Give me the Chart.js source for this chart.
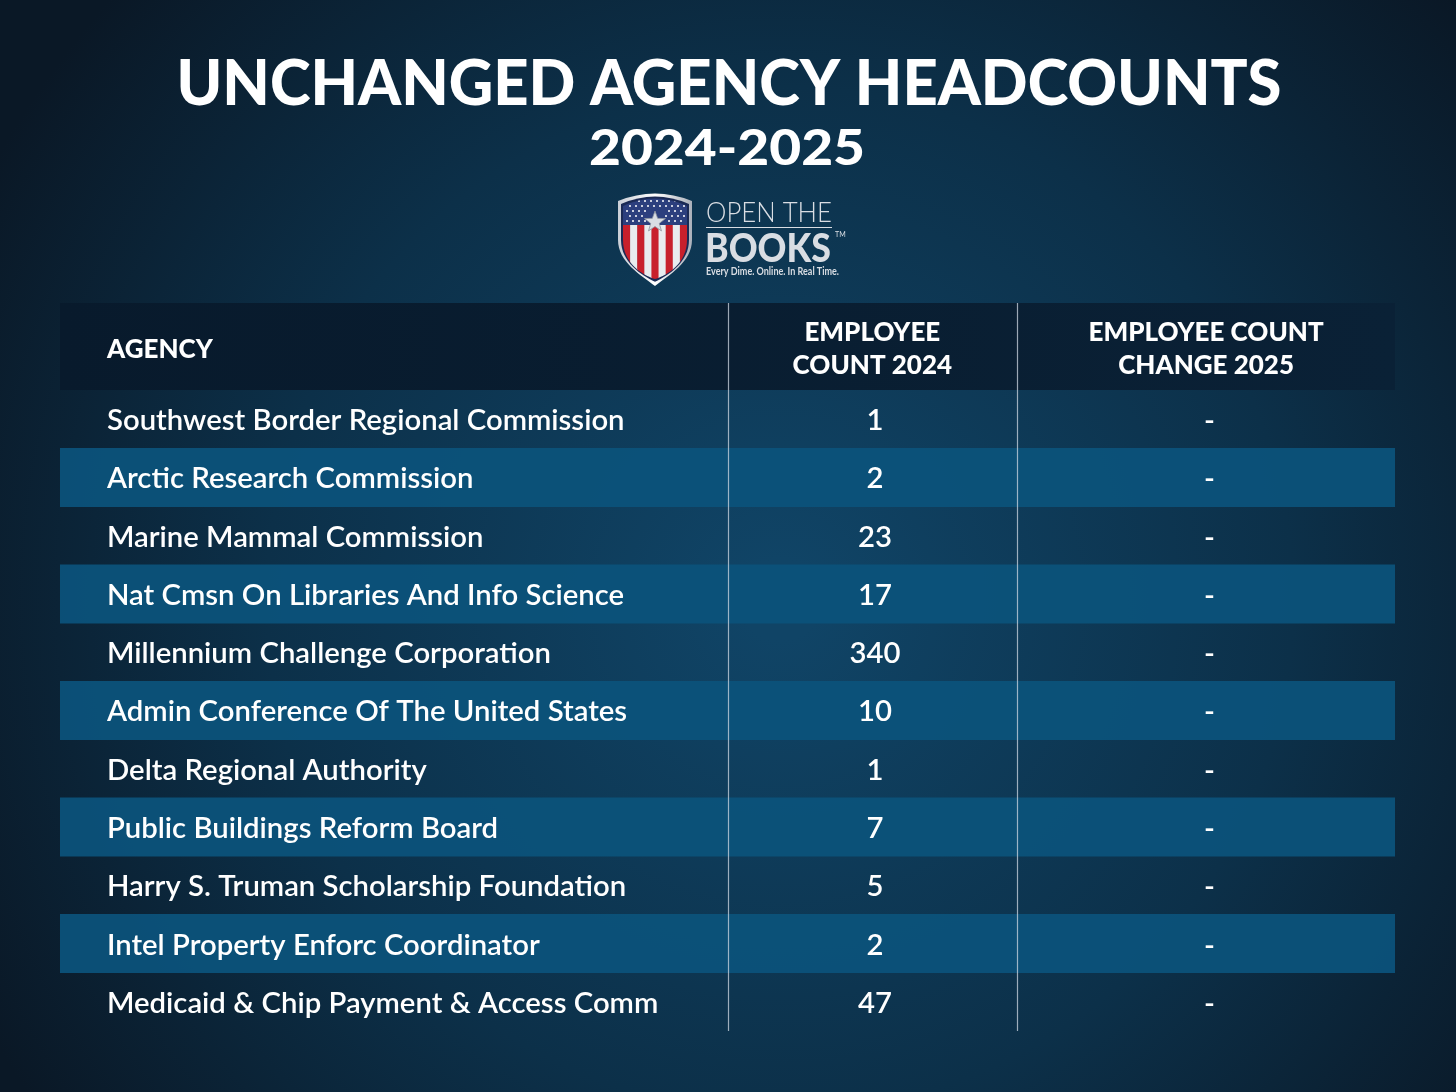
<!DOCTYPE html>
<html>
<head>
<meta charset="utf-8">
<script src="https://cdn.jsdelivr.net/npm/chart.js@4.4.1/dist/chart.umd.min.js"></script>
<style>
  html, body { margin: 0; padding: 0; background: #0b2236; }
  canvas { display: block; }
</style>
</head>
<body>
<canvas id="headcount_chart" width="1456" height="1092"></canvas>
<script>
// table data
const agencies = [
    'Southwest Border Regional Commission',
    'Arctic Research Commission',
    'Marine Mammal Commission',
    'Nat Cmsn On Libraries And Info Science',
    'Millennium Challenge Corporation',
    'Admin Conference Of The United States',
    'Delta Regional Authority',
    'Public Buildings Reform Board',
    'Harry S. Truman Scholarship Foundation',
    'Intel Property Enforc Coordinator',
    'Medicaid & Chip Payment & Access Comm'
];
const count_2024   = [1, 2, 23, 17, 340, 10, 1, 7, 5, 2, 47];
const change_2025  = ['-', '-', '-', '-', '-', '-', '-', '-', '-', '-', '-'];
const header_labels = [['AGENCY'], ['EMPLOYEE', 'COUNT 2024'], ['EMPLOYEE COUNT', 'CHANGE 2025']];

const title_text    = 'UNCHANGED AGENCY HEADCOUNTS';
const subtitle_text = '2024-2025';

// layout (x scale runs 0..100 across the table)
const col_edges   = [50.04, 71.69];
const head_anchor = [3.52, 60.85, 85.85];
const col_anchor  = [3.52, 61.05, 86.1];
const header_top  = 303;

function fit_font( ctx, text, weight, family, target ){
    ctx.font = weight + ' 100px ' + family;
    let w = ctx.measureText( text ).width;
    return 100 * target / w;
}

// draws text at a given size, squeezed or stretched to a target width
function stretched_text( ctx, text, font, x, y, target, align ){
    ctx.font = font;
    let w = ctx.measureText( text ).width;
    let k = target / w;
    ctx.save();
    ctx.textAlign = 'left';
    let left = align == 'center' ? x - target / 2 : x;
    ctx.translate( left, y );
    ctx.scale( k, 1 );
    ctx.fillText( text, 0, 0 );
    ctx.restore();
}

function draw_shield( ctx ){
    const cx = 655;
    function shield_path( inset ){
        let l = 618 + inset, r = 692 - inset, t = 193 + inset, b = 286 - inset * 1.4;
        ctx.beginPath();
        ctx.moveTo( l, t + 8 );
        ctx.quadraticCurveTo( cx, t - 7, r, t + 8 );
        ctx.lineTo( r, 240 );
        ctx.bezierCurveTo( r, 262, cx + 14, 275, cx, b );
        ctx.bezierCurveTo( cx - 14, 275, l, 262, l, 240 );
        ctx.closePath();
    }
    // silver rim
    shield_path( 0 );
    let rim = ctx.createLinearGradient( 618, 0, 692, 0 );
    rim.addColorStop( 0, '#c9ced6' );
    rim.addColorStop( 0.5, '#ffffff' );
    rim.addColorStop( 1, '#aab0ba' );
    ctx.fillStyle = rim;
    ctx.fill();
    shield_path( 3 );
    ctx.fillStyle = '#1b2a55';
    ctx.fill();
    // inner flag
    ctx.save();
    shield_path( 5 );
    ctx.clip();
    ctx.fillStyle = '#2c3f7e';
    ctx.fillRect( 610, 185, 90, 40 );
    let stripe_w = 64 / 9;
    for( let i = 0; i < 9; i++ ){
        ctx.fillStyle = i % 2 ? '#e9ecef' : '#c8202c';
        ctx.fillRect( 623 + i * stripe_w, 225, stripe_w + 0.5, 70 );
    }
    ctx.fillStyle = '#ffffff';
    for( let r = 0; r < 5; r++ ){
        for( let c = 0; c < 10; c++ ){
            let sx = 627 + c * 6 + ( r % 2 ? 3 : 0 );
            let sy = 201 + r * 5;
            if( Math.abs( sx - cx ) < 10 && sy > 210 ) continue;
            ctx.beginPath();
            ctx.arc( sx, sy, 1, 0, Math.PI * 2 );
            ctx.fill();
        }
    }
    ctx.restore();
    // centre star
    ctx.beginPath();
    for( let k = 0; k < 10; k++ ){
        let a = -Math.PI / 2 + k * Math.PI / 5;
        let rr = k % 2 ? 4.5 : 11;
        ctx.lineTo( cx + rr * Math.cos( a ), 222 + rr * Math.sin( a ) );
    }
    ctx.closePath();
    ctx.fillStyle = '#d9dde3';
    ctx.fill();
    ctx.strokeStyle = '#8d949e';
    ctx.lineWidth = 0.8;
    ctx.stroke();
}

const table_plugin = {
    id: 'table_plugin',
    beforeDraw( chart ){
        const ctx = chart.ctx;
        let g = ctx.createRadialGradient( 780, 600, 40, 780, 600, 900 );
        g.addColorStop( 0, '#104466' );
        g.addColorStop( 0.55, '#0c3049' );
        g.addColorStop( 1, '#0a1826' );
        ctx.save();
        ctx.fillStyle = g;
        ctx.fillRect( 0, 0, chart.width, chart.height );
        ctx.restore();
    },
    afterDatasetsDraw( chart ){
        const ctx = chart.ctx;
        const area = chart.chartArea;
        const xs = chart.scales.x;
        const ys = chart.scales.y;

        ctx.save();
        // header band
        let hg = ctx.createLinearGradient( area.left, 0, area.right, 0 );
        hg.addColorStop( 0, '#081a2c' );
        hg.addColorStop( 1, '#0a2136' );
        ctx.fillStyle = hg;
        ctx.fillRect( area.left, header_top, area.right - area.left, area.top - header_top );

        // column rules
        ctx.strokeStyle = 'rgba(205, 215, 225, 0.75)';
        ctx.lineWidth = 1.2;
        col_edges.forEach( v => {
            let px = Math.round( xs.getPixelForValue( v ) ) + 0.5;
            ctx.beginPath();
            ctx.moveTo( px, header_top );
            ctx.lineTo( px, area.bottom );
            ctx.stroke();
        });

        ctx.fillStyle = '#ffffff';
        ctx.textBaseline = 'middle';

        // header labels
        ctx.font = '900 26px Lato';
        let head_mid = ( header_top + area.top ) / 2 + 3;
        header_labels.forEach( ( lines, c ) => {
            ctx.textAlign = c == 0 ? 'left' : 'center';
            let px = xs.getPixelForValue( head_anchor[c] );
            lines.forEach( ( line, j ) => {
                let py = head_mid + ( j - ( lines.length - 1 ) / 2 ) * 33;
                ctx.fillText( line, px, py );
            });
        });

        // body rows
        let body_size = fit_font( ctx, agencies[10], '600', 'Lato', 552 );
        ctx.font = '600 ' + body_size.toFixed( 1 ) + 'px Lato';
        agencies.forEach( ( name, i ) => {
            let py = ys.getPixelForValue( i ) + 1.5;
            ctx.textAlign = 'left';
            ctx.fillText( name, xs.getPixelForValue( col_anchor[0] ), py );
            ctx.textAlign = 'center';
            ctx.fillText( String( count_2024[i] ), xs.getPixelForValue( col_anchor[1] ), py );
            ctx.fillText( change_2025[i], xs.getPixelForValue( col_anchor[2] ), py );
        });

        // titles
        ctx.textBaseline = 'alphabetic';
        stretched_text( ctx, title_text, '900 63px Lato', 729, 105, 1105, 'center' );
        stretched_text( ctx, subtitle_text, '900 50px Lato', 727, 165, 276, 'center' );

        // logo
        draw_shield( ctx );
        stretched_text( ctx, 'OPEN THE', '300 26.5px Lato', 706, 222, 126, 'left' );
        ctx.fillRect( 706, 227, 126, 1 );
        stretched_text( ctx, 'BOOKS', '900 40px Lato', 705, 262, 126, 'left' );
        ctx.font = '7px Lato';
        ctx.textAlign = 'left';
        ctx.fillText( 'TM', 835, 237 );
        stretched_text( ctx, 'Every Dime. Online. In Real Time.', 'bold 11.5px Lato', 706, 275, 133, 'left' );
        ctx.restore();
    }
};

const headcount_config = {
    type: 'bar',
    data: {
        labels: agencies,
        datasets: [{
            label: 'row stripes',
            data: agencies.map( ( a, i ) => i % 2 ? [0, 100] : null ),
            backgroundColor: 'rgba(12, 82, 122, 0.95)',
            borderWidth: 0,
            barPercentage: 1,
            categoryPercentage: 1
        }]
    },
    options: {
        indexAxis: 'y',
        responsive: false,
        animation: false,
        layout: {
            padding: { left: 60, right: 61, top: 390, bottom: 61 }
        },
        scales: {
            x: { min: 0, max: 100, display: false },
            y: { display: false }
        },
        plugins: {
            legend: { display: false },
            tooltip: { enabled: false }
        }
    },
    plugins: [ table_plugin ]
};

const headcount_chart = new Chart(
    document.getElementById('headcount_chart'),
    headcount_config
);
</script>
</body>
</html>
